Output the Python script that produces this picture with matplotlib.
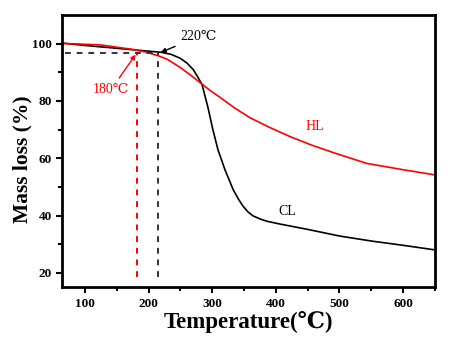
import numpy as np
import matplotlib
matplotlib.use("Agg")
import matplotlib.pyplot as plt

plt.rcParams["font.family"] = ["Liberation Serif", "DejaVu Serif", "Noto Sans CJK SC"]

# curvas (temperatura en grados C, masa en %)
temp_cl = [65, 100, 150, 180, 200, 220, 235, 249, 260, 270, 277, 284, 293, 301, 309, 320, 333, 341, 348,
           356, 364, 375, 386, 407, 449, 501, 553, 600, 650]
masa_cl = [100.2, 99.4, 98.4, 97.8, 97.4, 97.0, 96.3, 95.0, 93.3, 91.0, 88.5, 85.7, 78.0, 70.0, 63.0,
           56.0, 49.0, 45.8, 43.4, 41.3, 39.9, 38.8, 38.0, 37.0, 35.2, 32.8, 31.0, 29.6, 28.0]

temp_hl = [65, 124, 175, 197, 215, 229, 249, 265, 281, 296, 312, 335, 359, 390, 422, 455, 490, 543, 600, 650]
masa_hl = [100.1, 99.6, 98.0, 97.0, 95.8, 94.6, 91.8, 89.2, 86.4, 83.8, 81.3, 77.6, 74.2, 70.8, 67.6, 64.7,
           62.0, 58.2, 56.0, 54.2]

t_hl, m_hl = 182, 97.0
t_cl, m_cl = 215, 96.6

fig = plt.figure(figsize=(4.64, 3.43), dpi=100)
ax = fig.add_axes([0.134, 0.163, 0.803, 0.793])

ax.plot(temp_cl, masa_cl, color="black", lw=1.2)
ax.plot(temp_hl, masa_hl, color="red", lw=1.2)

# lineas punteadas de inicio de degradacion
ax.plot([t_hl, t_hl], [18.5, m_hl], color="red", ls=(0, (3, 3)), lw=1.4)
ax.plot([t_cl, t_cl], [18.5, m_cl], color="#333333", ls=(0, (3, 3)), lw=1.4)
ax.plot([68, t_cl], [m_cl, m_cl], color="#333333", ls=(0, (3, 3)), lw=1.4)

ax.annotate("220\u2103", xy=(t_cl, m_cl), xytext=(250, 102.5), color="black",
            fontsize=10, ha="left", va="center",
            arrowprops=dict(arrowstyle="-|>", color="black", lw=1, mutation_scale=7))
ax.annotate("180\u2103", xy=(t_hl, m_hl), xytext=(141, 84), color="red",
            fontsize=10, ha="center", va="center",
            arrowprops=dict(arrowstyle="-|>", color="red", lw=1, mutation_scale=7))

ax.text(462, 71, "HL", color="red", fontsize=10, ha="center", va="center")
ax.text(418, 41.5, "CL", color="black", fontsize=10, ha="center", va="center")

ax.set_xlim(64, 650)
ax.set_ylim(15, 110)
ax.set_xticks([100, 200, 300, 400, 500, 600])
ax.set_xticks([150, 250, 350, 450, 550, 650], minor=True)
ax.set_yticks([20, 40, 60, 80, 100])
ax.set_yticks([30, 50, 70, 90], minor=True)

for s in ax.spines.values():
    s.set_linewidth(2)
ax.tick_params(which="both", direction="out", width=1.5, labelsize=9.5)
ax.tick_params(which="major", length=4)
ax.tick_params(which="minor", length=3)
for lab in ax.get_xticklabels() + ax.get_yticklabels():
    lab.set_fontweight("bold")

ax.set_xlabel("Temperature(\u2103)", fontsize=16.5, fontweight="bold", labelpad=1)
ax.set_ylabel("Mass loss (%)", fontsize=15.5, fontweight="bold")
ax.yaxis.set_label_coords(-0.08, 0.47)

fig.savefig("out.png", dpi=100)
